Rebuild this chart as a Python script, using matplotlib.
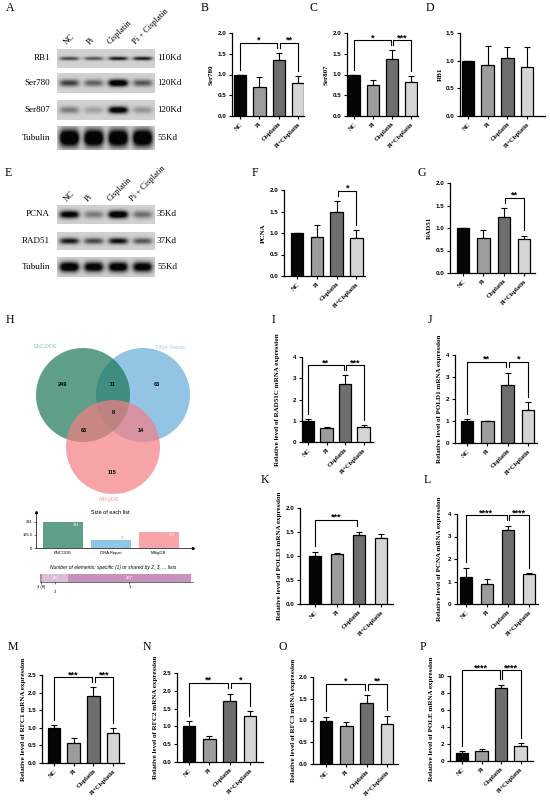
import numpy as np
import matplotlib
matplotlib.use("Agg")
import matplotlib.pyplot as plt
from matplotlib.patches import Circle

W, H = 550, 802
SERIF = "Liberation Serif"
SANS = "Liberation Sans"

groups = ["NC", "Pi", "Cisplatin", "Pi+Cisplatin"]
lane_labels = ["NC", "Pi", "Cisplatin", "Pi + Cisplatin"]
bar_colors = ["#050505", "#9c9c9c", "#6e6e6e", "#d5d5d5"]

# western blot quantification (relative to NC)
ser780 = [1.00, 0.70, 1.35, 0.80]
ser780_err = [0.00, 0.23, 0.17, 0.17]
ser807 = [1.00, 0.74, 1.38, 0.81]
ser807_err = [0.00, 0.13, 0.21, 0.16]
rb1 = [1.00, 0.93, 1.04, 0.88]
rb1_err = [0.00, 0.33, 0.20, 0.37]
pcna = [1.00, 0.90, 1.48, 0.88]
pcna_err = [0.00, 0.28, 0.27, 0.19]
rad51 = [1.00, 0.77, 1.25, 0.76]
rad51_err = [0.00, 0.19, 0.19, 0.07]

# qPCR relative mRNA levels
rad51c_mrna = [1.00, 0.65, 2.75, 0.70]
rad51c_err = [0.07, 0.06, 0.40, 0.10]
pold1_mrna = [1.00, 1.00, 2.62, 1.52]
pold1_err = [0.08, 0.02, 0.58, 0.35]
pold3_mrna = [1.00, 1.04, 1.44, 1.37]
pold3_err = [0.09, 0.03, 0.07, 0.09]
pcna_mrna = [1.20, 0.87, 3.30, 1.33]
pcna_mrna_err = [0.42, 0.25, 0.18, 0.05]
rfc1_mrna = [1.00, 0.58, 1.90, 0.86]
rfc1_err = [0.07, 0.14, 0.25, 0.13]
rfc2_mrna = [1.00, 0.66, 1.72, 1.30]
rfc2_err = [0.14, 0.08, 0.20, 0.12]
rfc3_mrna = [1.00, 0.88, 1.41, 0.91]
rfc3_err = [0.09, 0.08, 0.17, 0.20]
pole_mrna = [1.00, 1.20, 8.60, 1.80]
pole_err = [0.15, 0.25, 0.40, 0.30]

# blots: band darkness per lane
blot_a_rows = ["RB1", "Ser780", "Ser807", "Tubulin"]
blot_a_kd = ["110Kd", "120Kd", "120Kd", "55Kd"]
blot_a_levels = [[0.55, 0.50, 0.75, 0.75], [0.60, 0.45, 1.10, 0.50],
                 [0.35, 0.20, 1.00, 0.25], [1.30, 1.30, 1.30, 1.30]]
blot_a_thick = [0.20, 0.35, 0.35, 0.70]
blot_e_rows = ["PCNA", "RAD51", "Tubulin"]
blot_e_kd = ["35Kd", "37Kd", "55Kd"]
blot_e_levels = [[0.95, 0.35, 1.10, 0.40], [0.75, 0.55, 0.80, 0.50],
                 [1.10, 1.00, 1.05, 1.00]]
blot_e_thick = [0.40, 0.35, 0.50]

# venn (H)
venn_sets = ["ENCODE", "DNA Repair", "MSigDB"]
venn_regions = ["100", "010", "001", "110", "101", "011", "111"]
venn_counts = [249, 63, 115, 11, 63, 14, 8]

fig = plt.figure(figsize=(5.5, 8.02), dpi=100)


def rect(x0, y0, x1, y1):
    return [x0 / W, 1 - y1 / H, (x1 - x0) / W, (y1 - y0) / H]


def ftext(x, y, s, **kw):
    fig.text(x / W, 1 - y / H, s, **kw)


def band_image(levels, thick, bg=0.82):
    x = np.linspace(0, 4, 240)[None, :]
    y = np.linspace(-1, 1, 48)[:, None]
    dens = np.zeros((48, 240))
    for k, lv in enumerate(levels):
        dens += lv * np.exp(-((x - k - 0.5) / 0.40) ** 4) * np.exp(-(y / thick) ** 2)
    return np.clip(bg - dens, 0.02, 1)


def draw_blot(x0, x1, rows_y, names, kds, levels, thick, lab_x, lab_y):
    for (y0, y1), name, kd, lv, th in zip(rows_y, names, kds, levels, thick):
        ax = fig.add_axes(rect(x0, y0, x1, y1))
        ax.imshow(band_image(lv, th), cmap="gray", vmin=0, vmax=1,
                  aspect="auto", interpolation="bilinear")
        ax.axis("off")
        ftext(x0 - 7, (y0 + y1) / 2, name, family=SERIF, fontsize=6.5,
              ha="right", va="center")
        ftext(x1 + 3, (y0 + y1) / 2, kd, family=SERIF, fontsize=6.5,
              ha="left", va="center")
    for lx, lab in zip(lab_x, lane_labels):
        ftext(lx, lab_y, lab, family=SERIF, fontsize=6, rotation=45,
              ha="left", va="baseline", rotation_mode="anchor")


def bar_panel(vals, errs, box, ymax, ystep, ylabel, ylab_x, sigs, fmt="%.1f"):
    axis_x, nc_x, sp, right_x, top_y, bot_y = box
    ax = fig.add_axes(rect(axis_x, top_y, right_x, bot_y))
    x = np.arange(len(groups))
    ax.bar(x, vals, width=12.5 / sp, color=bar_colors, edgecolor="black",
           linewidth=0.9, zorder=3)
    ax.errorbar(x, vals, yerr=[np.zeros(len(vals)), errs], fmt="none",
                ecolor="black", elinewidth=0.8, capsize=2, capthick=0.8, zorder=2)
    ax.set_xlim(-(nc_x - axis_x) / sp, (right_x - nc_x) / sp)
    ax.set_ylim(0, ymax)
    ticks = np.arange(0, ymax + ystep / 2, ystep)
    ax.set_yticks(ticks)
    ax.set_yticklabels([fmt % t for t in ticks], family=SANS,
                       fontweight="bold", fontsize=4.5)
    ax.set_xticks(x)
    ax.set_xticklabels(groups, family=SERIF, fontweight="bold", fontsize=4.5,
                       rotation=45, ha="right", rotation_mode="anchor")
    for s in ["top", "right"]:
        ax.spines[s].set_visible(False)
    for s in ["left", "bottom"]:
        ax.spines[s].set_linewidth(0.9)
    ax.tick_params(length=2.5, width=0.8, pad=1.5)
    ftext(ylab_x, (top_y + bot_y) / 2, ylabel, family=SERIF, fontweight="bold",
          fontsize=5, rotation=90, ha="center", va="center")
    for i, j, y, txt in sigs:
        xi = i + (0.07 if i == 2 else 0)
        xj = j - (0.07 if j == 2 else 0)
        fi = min(vals[i] + errs[i] + 0.06 * ymax, y - 0.03 * ymax)
        fj = min(vals[j] + errs[j] + 0.06 * ymax, y - 0.03 * ymax)
        ax.plot([xi, xi, xj, xj], [fi, y, y, fj], color="black", lw=0.8,
                clip_on=False)
        ax.text((xi + xj) / 2, y, txt, ha="center", va="baseline", fontsize=6.5,
                fontweight="bold", family=SANS)
    return ax


def letter(x, y, s):
    ftext(x, y, s, family=SERIF, fontsize=8.5, ha="center", va="center")


# ---- A / E blots
draw_blot(57, 154, [(49, 68), (73, 93), (100, 120), (126, 150)], blot_a_rows,
          blot_a_kd, blot_a_levels, blot_a_thick, [67, 90, 110, 136], 45)
draw_blot(57, 154, [(205, 224), (232, 250), (257, 277)], blot_e_rows,
          blot_e_kd, blot_e_levels, blot_e_thick, [67, 88, 110, 133], 202)

# ---- bar panels
bar_panel(ser780, ser780_err, (232, 240, 19.4, 304, 33, 116), 2.0, 0.5,
          "Ser780", 211, [(0, 2, 1.76, "*"), (2, 3, 1.76, "**")])
bar_panel(ser807, ser807_err, (347, 354, 19.0, 418, 33, 116), 2.0, 0.5,
          "Ser807", 326, [(0, 2, 1.83, "*"), (2, 3, 1.83, "***")])
bar_panel(rb1, rb1_err, (460, 468, 19.7, 545, 33, 116), 1.5, 0.5,
          "RB1", 440, [])
bar_panel(pcna, pcna_err, (284, 297, 19.8, 365, 190, 276), 2.0, 0.5,
          "PCNA", 263, [(2, 3, 1.98, "*")])
bar_panel(rad51, rad51_err, (450, 463, 20.4, 535, 183, 273), 2.0, 0.5,
          "RAD51", 429, [(2, 3, 1.67, "**")])
bar_panel(rad51c_mrna, rad51c_err, (302, 308, 18.5, 373, 357, 442), 4, 1,
          "Relative level of RAD51C mRNA expression", 277,
          [(0, 2, 3.62, "**"), (2, 3, 3.62, "***")], fmt="%d")
bar_panel(pold1_mrna, pold1_err, (455, 467, 20.3, 537, 355, 443), 4, 1,
          "Relative level of POLD1 mRNA expression", 440,
          [(0, 2, 3.68, "**"), (2, 3, 3.68, "*")], fmt="%d")
bar_panel(pold3_mrna, pold3_err, (300, 315, 22.0, 393, 508, 604), 2.0, 0.5,
          "Relative level of POLD3 mRNA expression", 279,
          [(0, 2, 1.75, "***")])
bar_panel(pcna_mrna, pcna_mrna_err, (457, 466, 21.0, 538, 514, 604), 4, 1,
          "Relative level of PCNA mRNA expression", 440,
          [(0, 2, 3.95, "****"), (2, 3, 3.95, "****")], fmt="%d")
bar_panel(rfc1_mrna, rfc1_err, (42, 54, 19.7, 124, 675, 763), 2.5, 0.5,
          "Relative level of RFC1 mRNA expression", 24,
          [(0, 2, 2.44, "***"), (2, 3, 2.44, "***")])
bar_panel(rfc2_mrna, rfc2_err, (177, 189, 20.3, 263, 673, 762), 2.5, 0.5,
          "Relative level of RFC2 mRNA expression", 155,
          [(0, 2, 2.22, "**"), (2, 3, 2.22, "*")])
bar_panel(rfc3_mrna, rfc3_err, (313, 326, 20.3, 398, 677, 764), 2.0, 0.5,
          "Relative level of RFC3 mRNA expression", 293,
          [(0, 2, 1.84, "*"), (2, 3, 1.84, "**")])
bar_panel(pole_mrna, pole_err, (450, 462, 19.5, 533, 676, 761), 10, 2,
          "Relative level of POLE mRNA expression", 431,
          [(0, 2, 10.7, "****"), (2, 3, 10.7, "****")], fmt="%d")

# ---- H venn
vax = fig.add_axes(rect(20, 335, 215, 505))
vax.set_xlim(20, 215)
vax.set_ylim(505, 335)
vax.axis("off")
circle_pos = {"ENCODE": (83, 395), "DNA Repair": (143, 395), "MSigDB": (113, 447)}
circle_col = {"ENCODE": "#1b7654", "DNA Repair": "#64abd9", "MSigDB": "#f57e85"}
for name in ["DNA Repair", "ENCODE", "MSigDB"]:
    vax.add_patch(Circle(circle_pos[name], 47, facecolor=circle_col[name],
                         alpha=0.7, edgecolor="none"))
region_xy = {"100": (63, 384), "010": (157, 384), "001": (112, 473),
             "110": (113, 384), "101": (84, 430), "011": (141, 430),
             "111": (113, 413)}
for reg, cnt in zip(venn_regions, venn_counts):
    vax.text(*region_xy[reg], str(cnt), ha="center", va="center",
             fontsize=4, fontweight="bold", family=SANS)
set_label_xy = {"ENCODE": (45, 347), "DNA Repair": (171, 347), "MSigDB": (109, 500)}
set_label_col = {"ENCODE": "#8cc5b8", "DNA Repair": "#a8cde6", "MSigDB": "#f4a0a8"}
for name in venn_sets:
    vax.text(*set_label_xy[name], name, ha="center", va="center", fontsize=4,
             color=set_label_col[name], family=SANS)

# size of each list
set_sizes = [sum(c for r, c in zip(venn_regions, venn_counts) if r[k] == "1")
             for k in range(3)]
sax = fig.add_axes(rect(36, 512, 193, 548))
sx = np.arange(3)
sax.bar(sx, set_sizes, width=0.84, color=["#5f9f87", "#92c4e4", "#f8a4a9"])
sax.set_xlim(-0.565, 2.72)
sax.set_ylim(0, 458)
sax.set_yticks([0, set_sizes[0] / 2, set_sizes[0]])
sax.set_yticklabels(["0", "%.1f" % (set_sizes[0] / 2), str(set_sizes[0])],
                    fontsize=3, family=SANS)
sax.set_xticks(sx)
sax.set_xticklabels(venn_sets, fontsize=3, family=SANS)
sax.tick_params(axis="x", length=0, pad=2)
sax.tick_params(axis="y", length=1.5, width=0.4, pad=1)
for s in ["top", "right"]:
    sax.spines[s].set_visible(False)
for s in ["left", "bottom"]:
    sax.spines[s].set_linewidth(0.5)
sax.plot(1, 0, ">k", transform=sax.transAxes, clip_on=False, ms=1.5)
sax.plot(0, 1, "^k", transform=sax.transAxes, clip_on=False, ms=1.5)
for k, v in enumerate(set_sizes):
    if v > 150:
        sax.text(k + 0.35, v - 12, str(v), ha="right", va="top", fontsize=2.8,
                 color="white", family=SANS)
    else:
        sax.text(k + 0.3, v + 12, str(v), ha="right", va="bottom", fontsize=2.8,
                 color="#92c4e4", family=SANS)
ftext(110, 512, "Size of each list", fontsize=4, family=SANS, ha="center",
      va="center")
ftext(113, 567, "Number of elements: specific (1) or shared by 2, 3, ... lists",
      fontsize=3.5, family=SANS, style="italic", ha="center", va="center")

# shared-by degree bar
degree_labels = ["3 (8)", "\n2", "1"]
degree_counts = [sum(c for r, c in zip(venn_regions, venn_counts) if r.count("1") == d)
                 for d in (3, 2, 1)]
dax = fig.add_axes(rect(40, 574, 193, 582))
left = np.concatenate([[0], np.cumsum(degree_counts)[:-1]])
dax.barh(0, degree_counts, left=left, height=1.0,
         color=["#b784b0", "#dcbfd7", "#c792bf"])
dax.set_xlim(0, sum(degree_counts) * 1.013)
dax.set_ylim(-0.5, 0.5)
dax.set_yticks([])
dax.set_xticks(left + np.array(degree_counts) / 2)
dax.set_xticklabels(degree_labels, fontsize=3, family=SANS)
dax.tick_params(axis="x", length=1.5, width=0.4, pad=1)
for s in ["top", "right", "left"]:
    dax.spines[s].set_visible(False)
dax.spines["bottom"].set_linewidth(0.4)
for l, c in zip(left[1:], degree_counts[1:]):
    dax.text(l + c / 2, 0, str(c), ha="center", va="center", fontsize=3,
             color="white", family=SANS)

# ---- panel letters
for s, (lx, ly) in {"A": (10, 8), "B": (205, 8), "C": (313, 8), "D": (430, 8),
                    "E": (8, 173), "F": (255, 173), "G": (422, 173),
                    "H": (10, 320), "I": (273, 320), "J": (430, 320),
                    "K": (265, 480), "L": (427, 480), "M": (13, 647),
                    "N": (147, 647), "O": (283, 647), "P": (423, 647)}.items():
    letter(lx, ly, s)

fig.savefig("out.png", dpi=100)
